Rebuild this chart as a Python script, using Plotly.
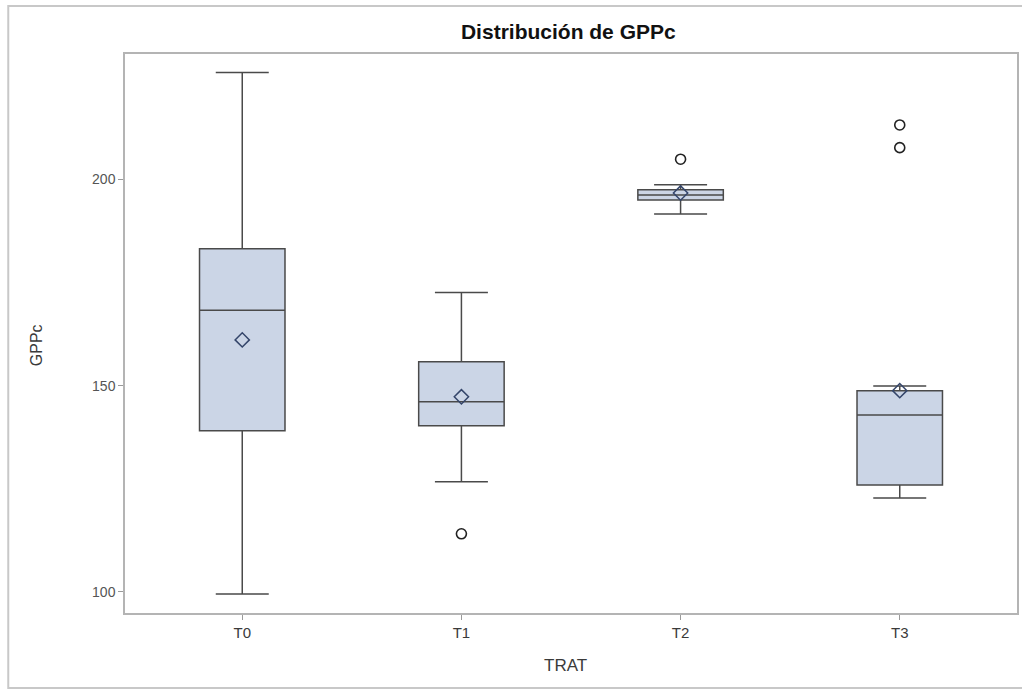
import plotly.graph_objects as go

# Treatment groups and box statistics for GPPc
trat = ["T0", "T1", "T2", "T3"]
q1 = [139.1, 140.3, 195.0, 125.9]
median = [168.3, 146.1, 196.2, 142.9]
q3 = [183.2, 155.8, 197.5, 148.8]
lower_fence = [99.5, 126.7, 191.6, 122.8]
upper_fence = [225.9, 172.6, 198.7, 149.9]
mean = [161.1, 147.3, 196.7, 148.8]

# Outlying observations
outlier_trat = ["T1", "T2", "T3", "T3"]
outlier_val = [114.1, 204.9, 213.2, 207.7]

y_ticks = [100, 150, 200]

FONT = "Liberation Sans, Arial, sans-serif"
TEXT = "#3a3a3a"

fig = go.Figure()

fig.add_trace(go.Box(
    x=trat,
    q1=q1,
    median=median,
    q3=q3,
    lowerfence=lower_fence,
    upperfence=upper_fence,
    width=0.39,
    whiskerwidth=0.62,
    fillcolor="#cbd5e6",
    line=dict(color="#4a4a4a", width=1.5),
    boxpoints=False,
    hoverinfo="skip",
    showlegend=False,
))

fig.add_trace(go.Scatter(
    x=trat,
    y=mean,
    mode="markers",
    marker=dict(symbol="diamond-open", size=11, color="#34456a",
                line=dict(width=1.5, color="#34456a")),
    showlegend=False,
))

fig.add_trace(go.Scatter(
    x=outlier_trat,
    y=outlier_val,
    mode="markers",
    marker=dict(symbol="circle-open", size=10, color="#222222",
                line=dict(width=1.6, color="#222222")),
    showlegend=False,
))

W, H = 1022, 691
ML, MR, MT, MB = 125, 3, 54, 78
pw = W - ML - MR
ph = H - MT - MB


def px_x(p):
    return (p - ML) / pw


def px_y(p):
    return (H - MB - p) / ph


fig.update_layout(
    width=W,
    height=H,
    autosize=False,
    margin=dict(l=ML, r=MR, t=MT, b=MB),
    paper_bgcolor="white",
    plot_bgcolor="white",
    font=dict(family=FONT, color=TEXT),
    title=dict(
        text="<b>Distribución de GPPc</b>",
        x=0.497, xref="paper", xanchor="center",
        y=1 - 32 / H, yref="container", yanchor="middle",
        font=dict(size=21, color="#111111", family=FONT),
    ),
    xaxis=dict(
        type="category",
        range=[-0.535, 3.535],
        showgrid=False,
        zeroline=False,
        showline=True,
        mirror=True,
        linecolor="#b4b4b4",
        linewidth=1.5,
        ticks="outside",
        ticklen=5,
        tickcolor="#9a9a9a",
        tickfont=dict(size=15, color=TEXT),
    ),
    yaxis=dict(
        range=[94.9, 230.4],
        tickvals=y_ticks,
        showgrid=False,
        zeroline=False,
        showline=True,
        mirror=True,
        linecolor="#b4b4b4",
        linewidth=1.5,
        ticks="outside",
        ticklen=5,
        tickcolor="#9a9a9a",
        tickfont=dict(size=14, color="#555555"),
    ),
    annotations=[
        dict(text="GPPc", textangle=-90, x=px_x(36), y=px_y(345),
             xanchor="center", yanchor="middle",
             xref="paper", yref="paper", showarrow=False,
             font=dict(size=16, color=TEXT, family=FONT)),
        dict(text="TRAT", x=px_x(566), y=px_y(665),
             xanchor="center", yanchor="middle",
             xref="paper", yref="paper", showarrow=False,
             font=dict(size=17, color=TEXT, family=FONT)),
    ],
    shapes=[
        dict(type="rect", xref="paper", yref="paper",
             x0=px_x(8), x1=px_x(1040), y0=px_y(688), y1=px_y(6),
             line=dict(color="#c8c8c8", width=2), layer="below"),
    ],
)

fig.write_html("out.html")
